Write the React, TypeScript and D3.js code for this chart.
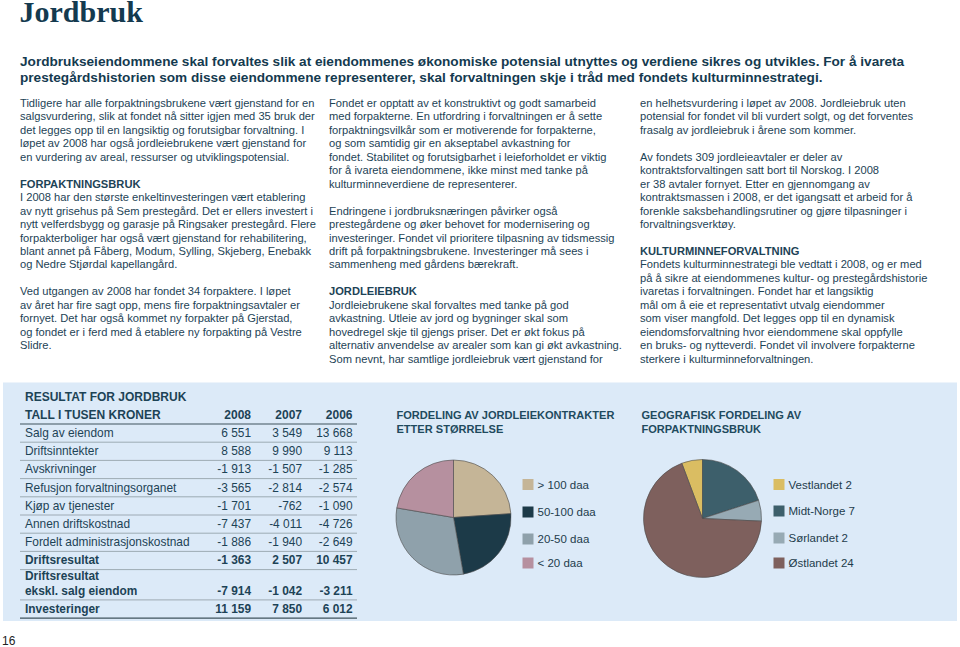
import React from "react";
import * as d3 from "d3";

const pageTitle = "Jordbruk";
const leadLines = [
  "Jordbrukseiendommene skal forvaltes slik at eiendommenes økonomiske potensial utnyttes og verdiene sikres og utvikles. For å ivareta",
  "prestegårdshistorien som disse eiendommene representerer, skal forvaltningen skje i tråd med fondets kulturminnestrategi.",
];

const headings = ["FORPAKTNINGSBRUK", "JORDLEIEBRUK", "KULTURMINNEFORVALTNING"];

const column1 = [
  "Tidligere har alle forpaktningsbrukene vært gjenstand for en",
  "salgsvurdering, slik at fondet nå sitter igjen med 35 bruk der",
  "det legges opp til en langsiktig og forutsigbar forvaltning. I",
  "løpet av 2008 har også jordleiebrukene vært gjenstand for",
  "en vurdering av areal, ressurser og utviklingspotensial.",
  "",
  "FORPAKTNINGSBRUK",
  "I 2008 har den største enkeltinvesteringen vært etablering",
  "av nytt grisehus på Sem prestegård. Det er ellers investert i",
  "nytt velferdsbygg og garasje på Ringsaker prestegård. Flere",
  "forpakterboliger har også vært gjenstand for rehabilitering,",
  "blant annet på Fåberg, Modum, Sylling, Skjeberg, Enebakk",
  "og Nedre Stjørdal kapellangård.",
  "",
  "Ved utgangen av 2008 har fondet 34 forpaktere. I løpet",
  "av året har fire sagt opp, mens fire forpaktningsavtaler er",
  "fornyet. Det har også kommet ny forpakter på Gjerstad,",
  "og fondet er i ferd med å etablere ny forpakting på Vestre",
  "Slidre.",
];

const column2 = [
  "Fondet er opptatt av et konstruktivt og godt samarbeid",
  "med forpakterne. En utfordring i forvaltningen er å sette",
  "forpaktningsvilkår som er motiverende for forpakterne,",
  "og som samtidig gir en akseptabel avkastning for",
  "fondet. Stabilitet og forutsigbarhet i leieforholdet er viktig",
  "for å ivareta eiendommene, ikke minst med tanke på",
  "kulturminneverdiene de representerer.",
  "",
  "Endringene i jordbruksnæringen påvirker også",
  "prestegårdene og øker behovet for modernisering og",
  "investeringer. Fondet vil prioritere tilpasning av tidsmessig",
  "drift på forpaktningsbrukene. Investeringer må sees i",
  "sammenheng med gårdens bærekraft.",
  "",
  "JORDLEIEBRUK",
  "Jordleiebrukene skal forvaltes med tanke på god",
  "avkastning. Utleie av jord og bygninger skal som",
  "hovedregel skje til gjengs priser. Det er økt fokus på",
  "alternativ anvendelse av arealer som kan gi økt avkastning.",
  "Som nevnt, har samtlige jordleiebruk vært gjenstand for",
];

const column3 = [
  "en helhetsvurdering i løpet av 2008. Jordleiebruk uten",
  "potensial for fondet vil bli vurdert solgt, og det forventes",
  "frasalg av jordleiebruk i årene som kommer.",
  "",
  "Av fondets 309 jordleieavtaler er deler av",
  "kontraktsforvaltingen satt bort til Norskog. I 2008",
  "er 38 avtaler fornyet. Etter en gjennomgang av",
  "kontraktsmassen i 2008, er det igangsatt et arbeid for å",
  "forenkle saksbehandlingsrutiner og gjøre tilpasninger i",
  "forvaltningsverktøy.",
  "",
  "KULTURMINNEFORVALTNING",
  "Fondets kulturminnestrategi ble vedtatt i 2008, og er med",
  "på å sikre at eiendommenes kultur- og prestegårdshistorie",
  "ivaretas i forvaltningen. Fondet har et langsiktig",
  "mål om å eie et representativt utvalg eiendommer",
  "som viser mangfold. Det legges opp til en dynamisk",
  "eiendomsforvaltning hvor eiendommene skal oppfylle",
  "en bruks- og nytteverdi. Fondet vil involvere forpakterne",
  "sterkere i kulturminneforvaltningen.",
];

// Table
const tableTitle = "RESULTAT FOR JORDBRUK";
const tableUnit = "TALL I TUSEN KRONER";
const tableYears = ["2008", "2007", "2006"];
const tableLabels = [
  ["Salg av eiendom"],
  ["Driftsinntekter"],
  ["Avskrivninger"],
  ["Refusjon forvaltningsorganet"],
  ["Kjøp av tjenester"],
  ["Annen driftskostnad"],
  ["Fordelt administrasjonskostnad"],
  ["Driftsresultat"],
  ["Driftsresultat", "ekskl. salg eiendom"],
  ["Investeringer"],
];
const values2008 = [6551, 8588, -1913, -3565, -1701, -7437, -1886, -1363, -7914, 11159];
const values2007 = [3549, 9990, -1507, -2814, -762, -4011, -1940, 2507, -1042, 7850];
const values2006 = [13668, 9113, -1285, -2574, -1090, -4726, -2649, 10457, -3211, 6012];
const boldRows = [7, 8, 9];

// Pie 1
const pie1Title = ["FORDELING AV JORDLEIEKONTRAKTER", "ETTER STØRRELSE"];
const pie1Labels = ["> 100 daa", "50-100 daa", "20-50 daa", "< 20 daa"];
const pie1Values = [74, 72, 94, 69];
const pie1Colors = ["#c5b597", "#1c3a48", "#8fa1ab", "#b6909f"];

// Pie 2
const pie2Title = ["GEOGRAFISK FORDELING AV", "FORPAKTNINGSBRUK"];
const pie2Labels = ["Vestlandet 2", "Midt-Norge 7", "Sørlandet 2", "Østlandet 24"];
const pie2Values = [2, 7, 2, 24];
const pie2Colors = ["#dabd62", "#3d5f6b", "#97aab4", "#7e605d"];

const locale = d3.formatLocale({
  decimal: ",",
  thousands: " ",
  grouping: [3],
  currency: ["", ""],
  minus: "-",
});
const fmt = locale.format(",d");

const SANS = "'Liberation Sans', Arial, Helvetica, sans-serif";
const TEXT = "#1d4356";
const DARK = "#143a4f";

function Column({ lines, x, y0, lh }: { lines: string[]; x: number; y0: number; lh: number }) {
  return (
    <g>
      {lines.map((t, i) =>
        t === "" ? null : (
          <text
            key={i}
            x={x}
            y={y0 + i * lh}
            fontSize={11.15}
            fontFamily={SANS}
            fontWeight={headings.includes(t) ? "bold" : "normal"}
            fill={TEXT}
          >
            {t}
          </text>
        )
      )}
    </g>
  );
}

function Pie({
  cx,
  cy,
  r,
  values,
  colors,
  startAngle,
}: {
  cx: number;
  cy: number;
  r: number;
  values: number[];
  colors: string[];
  startAngle: number;
}) {
  const arcs = d3
    .pie<number>()
    .sort(null)
    .value((d) => d)
    .startAngle(startAngle)
    .endAngle(startAngle + 2 * Math.PI)(values);
  const arc = d3.arc<d3.PieArcDatum<number>>().innerRadius(0).outerRadius(r);
  return (
    <g transform={`translate(${cx},${cy})`}>
      {arcs.map((a, i) => (
        <path key={i} d={arc(a) || ""} fill={colors[i]} stroke="#4a4a4a" strokeWidth={0.6} />
      ))}
    </g>
  );
}

function Legend({
  x,
  ys,
  labels,
  colors,
}: {
  x: number;
  ys: number[];
  labels: string[];
  colors: string[];
}) {
  return (
    <g>
      {labels.map((l, i) => (
        <g key={i}>
          <rect x={x} y={ys[i] - 5.5} width={11} height={11} fill={colors[i]} />
          <text x={x + 15} y={ys[i] + 4} fontSize={11.5} fontFamily={SANS} fill="#1e3c4c">
            {l}
          </text>
        </g>
      ))}
    </g>
  );
}

export default function App() {
  // table layout
  const tableX0 = 20;
  const tableX1 = 357;
  const headerLineY = 424;
  const rowH = 18.2;
  const rowHeights = tableLabels.map((l) => (l.length > 1 ? 30.3 : rowH));
  const rowBottoms: number[] = [];
  rowHeights.reduce((acc, h) => {
    rowBottoms.push(acc + h);
    return acc + h;
  }, headerLineY);
  const colRight = d3.scaleOrdinal<string, number>().domain(tableYears).range([251, 302, 352.5]);
  const series = [values2008, values2007, values2006];

  const pieStart = 0;
  const pie2Start = -(pie2Values[0] / d3.sum(pie2Values)) * 2 * Math.PI;

  return (
    <svg
      width={960}
      height={647}
      style={{ position: "absolute", left: 0, top: 0, background: "#ffffff" }}
    >
      <rect x={0} y={0} width={960} height={647} fill="#ffffff" />
      <text x={19.5} y={22} fontSize={30} fontWeight="bold" fontFamily="'Liberation Serif', 'Times New Roman', serif" fill={DARK}>
        {pageTitle}
      </text>
      {leadLines.map((t, i) => (
        <text key={i} x={20} y={65.5 + i * 16} fontSize={13.62} fontWeight="bold" fontFamily={SANS} fill={DARK}>
          {t}
        </text>
      ))}

      <Column lines={column1} x={20} y0={107} lh={13.45} />
      <Column lines={column2} x={329} y0={107} lh={13.45} />
      <Column lines={column3} x={640} y0={107} lh={13.45} />

      {/* bottom panel */}
      <rect x={3} y={382.5} width={954} height={238.5} fill="#dceaf8" />

      {/* table */}
      <text x={25} y={400.5} fontSize={12} fontWeight="bold" fontFamily={SANS} fill={TEXT}>
        {tableTitle}
      </text>
      <text x={25} y={418.5} fontSize={12} fontWeight="bold" fontFamily={SANS} fill={TEXT}>
        {tableUnit}
      </text>
      {tableYears.map((yr) => (
        <text key={yr} x={colRight(yr)} y={418.5} fontSize={12} fontWeight="bold" fontFamily={SANS} fill={TEXT} textAnchor="end">
          {yr}
        </text>
      ))}
      <line x1={tableX0} x2={tableX1} y1={headerLineY} y2={headerLineY} stroke="#3f525c" strokeWidth={1.2} />
      {tableLabels.map((lab, i) => {
        const bottom = rowBottoms[i];
        const baseline = bottom - 5.2;
        const bold = boldRows.includes(i);
        return (
          <g key={i}>
            {lab.map((l, j) => (
              <text
                key={j}
                x={25}
                y={baseline - (lab.length - 1 - j) * 14.4}
                fontSize={11.9}
                fontWeight={bold ? "bold" : "normal"}
                fontFamily={SANS}
                fill={TEXT}
              >
                {l}
              </text>
            ))}
            {series.map((s, k) => (
              <text
                key={k}
                x={colRight(tableYears[k])}
                y={baseline}
                fontSize={11.9}
                fontWeight={bold ? "bold" : "normal"}
                fontFamily={SANS}
                fill={TEXT}
                textAnchor="end"
              >
                {fmt(s[i])}
              </text>
            ))}
            <line x1={tableX0} x2={tableX1} y1={bottom} y2={bottom} stroke={i === tableLabels.length - 1 ? "#3f525c" : "#8d9aa2"} strokeWidth={i === tableLabels.length - 1 ? 1.2 : 0.8} />
          </g>
        );
      })}

      {/* pie 1 */}
      {pie1Title.map((t, i) => (
        <text key={i} x={396.5} y={418.5 + i * 14} fontSize={11.05} fontWeight="bold" fontFamily={SANS} fill="#1f4a5e">
          {t}
        </text>
      ))}
      <Pie cx={453.5} cy={517.5} r={57.5} values={pie1Values} colors={pie1Colors} startAngle={pieStart} />
      <Legend x={522.5} ys={[484.5, 512, 539, 563]} labels={pie1Labels} colors={pie1Colors} />

      {/* pie 2 */}
      {pie2Title.map((t, i) => (
        <text key={i} x={641.5} y={418.5 + i * 14} fontSize={11.05} fontWeight="bold" fontFamily={SANS} fill="#1f4a5e">
          {t}
        </text>
      ))}
      <Pie cx={702.5} cy={518.5} r={59} values={pie2Values} colors={pie2Colors} startAngle={pie2Start} />
      <Legend x={773.5} ys={[484.5, 511, 538, 563]} labels={pie2Labels} colors={pie2Colors} />

      <text x={2} y={645} fontSize={12} fontFamily={SANS} fill="#222">
        16
      </text>
    </svg>
  );
}
